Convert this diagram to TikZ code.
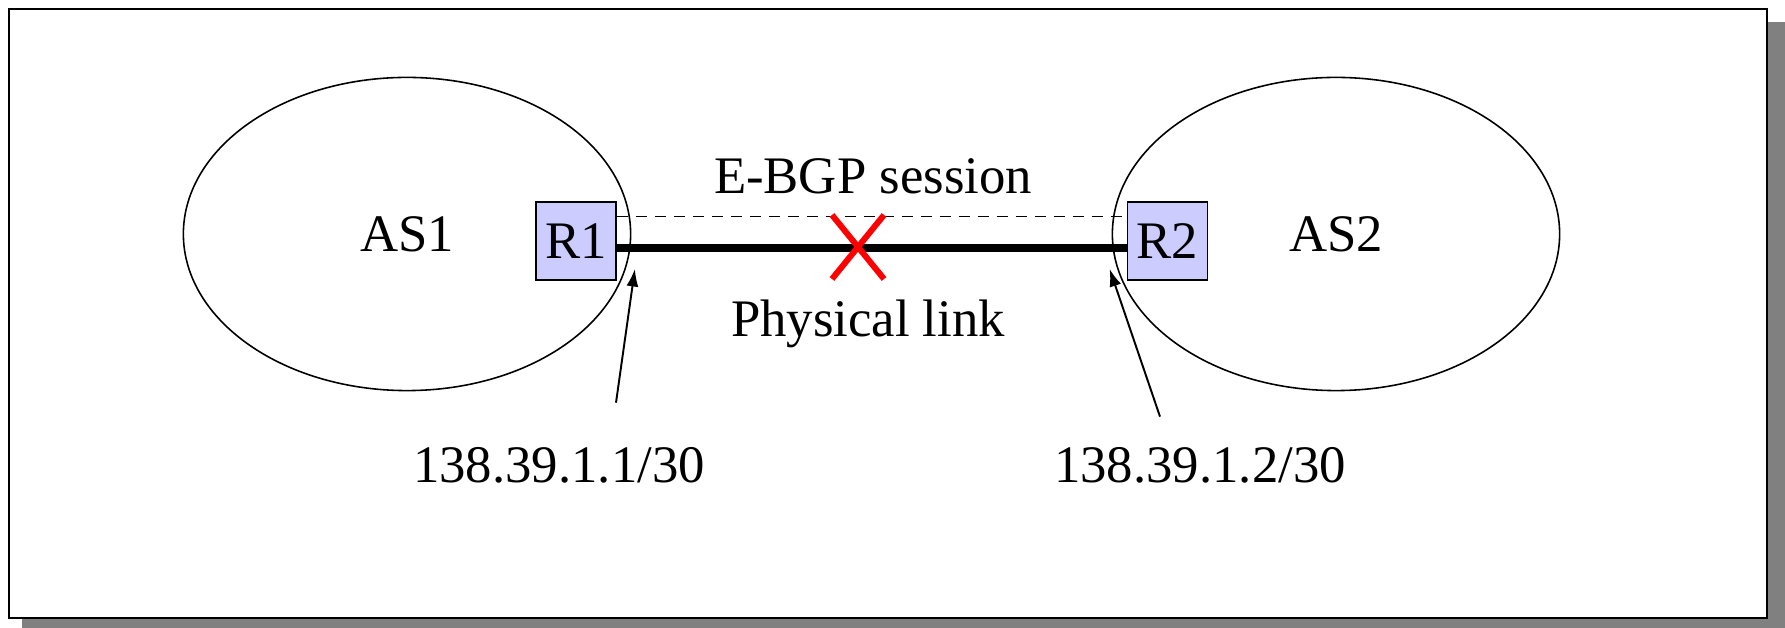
\documentclass[tikz,border=0pt]{standalone}
\usepackage{fontspec}
\setmainfont{Liberation Serif}
\usetikzlibrary{shapes.geometric,arrows.meta}
\definecolor{routerblue}{RGB}{204,204,255}
\definecolor{shadowgray}{RGB}{128,128,128}
\tikzstyle{asarea} = [draw, ellipse, line width=0.45pt, minimum width=4.47cm,
    minimum height=3.13cm, inner sep=0pt]
\tikzstyle{router} = [draw, fill=routerblue, line width=0.5pt, minimum width=0.8cm,
    minimum height=0.78cm, inner sep=0pt]
\tikzstyle{physlink} = [line width=2pt]
\tikzstyle{session} = [line width=0.45pt, dash pattern=on 3.2pt off 2.2pt]
\tikzstyle{iface} = [line width=0.55pt, -{Latex[length=5pt,width=3.4pt]}]
\tikzstyle{failmark} = [draw=red, line width=1.7pt]

\begin{document}
\begin{tikzpicture}[x=0.01cm, y=-0.01cm, every node/.style={font=\fontsize{15}{18}\selectfont}]
    \useasboundingbox (0,0) rectangle (1785,628);
    % frame with its shadow
    \fill[shadowgray] (22,22) rectangle (1785,628);
    \draw[line width=0.57pt, fill=white] (9,9) rectangle (1767,618);

    \node (as1) [asarea] at (407,234) {AS1};
    \node (as2) [asarea] at (1336,234) {AS2};

    \node (r1) [router] at (576,241) {R1};
    \node (r2) [router] at (1167.5,241) {R2};

    \path [draw, physlink] ([yshift=-0.07cm]r1.east) -- ([yshift=-0.07cm]r2.west);
    \path [draw, session] ([yshift=0.243cm]r1.east) -- ([yshift=0.243cm]r2.west);

    \node (ebgp) at (873,176) {E-BGP session};
    \node (phys) at (868,324) {Physical link};

    % the broken link
    \coordinate (fail) at (858,247);
    \draw[failmark] (fail) +(-26,-32) -- +(26,32);
    \draw[failmark] (fail) +(26,-32) -- +(-26,32);

    \node (addr1) at (559,465) {138.39.1.1/30};
    \node (addr2) at (1200,465) {138.39.1.2/30};

    % interface pointers
    \path (r1.south east)+(18,-12) coordinate (if1);
    \path (r2.south west)+(-17,-12) coordinate (if2);
    \path (addr1.north)+(57,-32) coordinate (tail1);
    \path (addr2.north)+(-40,-18) coordinate (tail2);
    \path [draw, iface] (tail1) -- (if1);
    \path [draw, iface] (tail2) -- (if2);
\end{tikzpicture}
\end{document}
